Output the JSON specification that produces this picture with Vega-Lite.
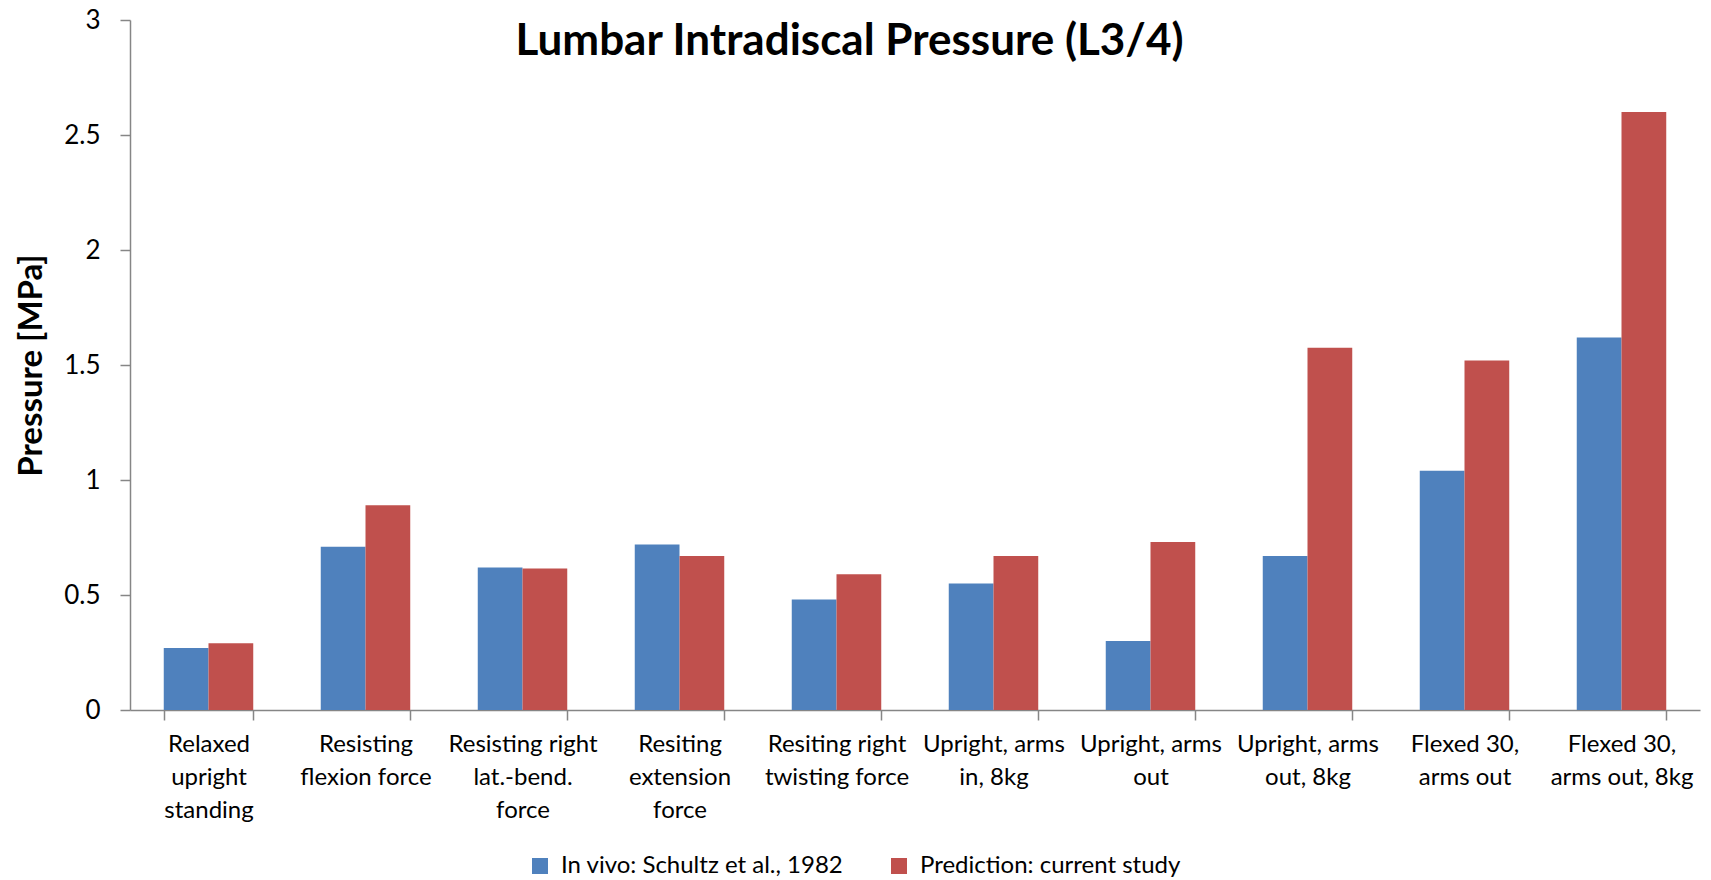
{
  "$schema": "https://vega.github.io/schema/vega-lite/v6.json",
  "width": 1570,
  "height": 690,
  "autosize": {"type": "none"},
  "padding": {"left": 130, "top": 20, "right": 11, "bottom": 170},
  "background": "white",
  "data": {
    "values": [
      {"condition": "Relaxed upright standing", "series": "In vivo: Schultz et al., 1982", "pressure": 0.27},
      {"condition": "Relaxed upright standing", "series": "Prediction: current study", "pressure": 0.29},
      {"condition": "Resisting flexion force", "series": "In vivo: Schultz et al., 1982", "pressure": 0.71},
      {"condition": "Resisting flexion force", "series": "Prediction: current study", "pressure": 0.89},
      {"condition": "Resisting right lat.-bend. force", "series": "In vivo: Schultz et al., 1982", "pressure": 0.62},
      {"condition": "Resisting right lat.-bend. force", "series": "Prediction: current study", "pressure": 0.615},
      {"condition": "Resiting extension force", "series": "In vivo: Schultz et al., 1982", "pressure": 0.72},
      {"condition": "Resiting extension force", "series": "Prediction: current study", "pressure": 0.67},
      {"condition": "Resiting right twisting force", "series": "In vivo: Schultz et al., 1982", "pressure": 0.48},
      {"condition": "Resiting right twisting force", "series": "Prediction: current study", "pressure": 0.59},
      {"condition": "Upright, arms in, 8kg", "series": "In vivo: Schultz et al., 1982", "pressure": 0.55},
      {"condition": "Upright, arms in, 8kg", "series": "Prediction: current study", "pressure": 0.67},
      {"condition": "Upright, arms out", "series": "In vivo: Schultz et al., 1982", "pressure": 0.30},
      {"condition": "Upright, arms out", "series": "Prediction: current study", "pressure": 0.73},
      {"condition": "Upright, arms out, 8kg", "series": "In vivo: Schultz et al., 1982", "pressure": 0.67},
      {"condition": "Upright, arms out, 8kg", "series": "Prediction: current study", "pressure": 1.575},
      {"condition": "Flexed 30, arms out", "series": "In vivo: Schultz et al., 1982", "pressure": 1.04},
      {"condition": "Flexed 30, arms out", "series": "Prediction: current study", "pressure": 1.52},
      {"condition": "Flexed 30, arms out, 8kg", "series": "In vivo: Schultz et al., 1982", "pressure": 1.62},
      {"condition": "Flexed 30, arms out, 8kg", "series": "Prediction: current study", "pressure": 2.60}
    ]
  },
  "encoding": {
    "x": {
      "field": "condition",
      "type": "nominal",
      "sort": null,
      "scale": {"paddingInner": 0.43, "paddingOuter": 0.215},
      "axis": {
        "title": null,
        "labelAngle": 0,
        "labelFont": "Lato",
        "labelFontSize": 24,
        "labelColor": "#000000",
        "labelLineHeight": 33,
        "labelPadding": 12,
        "labelLimit": 0,
        "labelBaseline": "top",
        "tickBand": "extent",
        "tickSize": 10,
        "tickColor": "#868686",
        "domainColor": "#868686",
        "domainWidth": 1.5,
        "tickWidth": 1.5,
        "labelExpr": "{'Relaxed upright standing': ['Relaxed','upright','standing'], 'Resisting flexion force': ['Resisting','flexion force'], 'Resisting right lat.-bend. force': ['Resisting right','lat.-bend.','force'], 'Resiting extension force': ['Resiting','extension','force'], 'Resiting right twisting force': ['Resiting right','twisting force'], 'Upright, arms in, 8kg': ['Upright, arms','in, 8kg'], 'Upright, arms out': ['Upright, arms','out'], 'Upright, arms out, 8kg': ['Upright, arms','out, 8kg'], 'Flexed 30, arms out': ['Flexed 30,','arms out'], 'Flexed 30, arms out, 8kg': ['Flexed 30,','arms out, 8kg']}[datum.label]"
      }
    }
  },
  "layer": [
    {
      "mark": {"type": "bar"},
      "encoding": {
        "y": {
          "field": "pressure",
          "type": "quantitative",
          "scale": {"domain": [0, 3], "nice": false},
          "axis": {
            "title": "Pressure [MPa]",
            "titleFont": "Lato",
            "titleFontSize": 33,
            "titleFontWeight": "bold",
            "titleColor": "#000000",
            "titlePadding": 15,
            "values": [0, 0.5, 1, 1.5, 2, 2.5, 3],
            "format": ".1~f",
            "grid": false,
            "labelFont": "Lato",
            "labelFontSize": 26,
            "labelColor": "#000000",
            "labelPadding": 20,
            "tickSize": 10,
            "tickColor": "#868686",
            "domainColor": "#868686",
            "domainWidth": 1.5,
            "tickWidth": 1.5
          }
        },
        "xOffset": {
          "field": "series",
          "type": "nominal",
          "scale": {"paddingInner": 0, "paddingOuter": 0}
        },
        "color": {
          "field": "series",
          "type": "nominal",
          "scale": {"domain": ["In vivo: Schultz et al., 1982", "Prediction: current study"], "range": ["#4F81BD", "#C0504D"]},
          "legend": {
            "title": null,
            "orient": "none",
            "direction": "horizontal",
            "legendX": 398,
            "legendY": 834,
            "padding": 0,
            "symbolType": "square",
            "symbolSize": 256,
            "symbolStrokeWidth": 0,
            "symbolOpacity": 1,
            "labelOffset": 9,
            "labelFont": "Lato",
            "labelFontSize": 24,
            "labelColor": "#000000",
            "labelLimit": 0,
            "columnPadding": 43
          }
        }
      }
    },
    {
      "transform": [
        {"filter": "datum.condition === 'Resiting right twisting force' && datum.series === 'In vivo: Schultz et al., 1982'"}
      ],
      "mark": {
        "type": "text",
        "text": "Lumbar Intradiscal Pressure (L3/4)",
        "font": "Lato",
        "fontSize": 44,
        "fontWeight": "bold",
        "fill": "#000000",
        "align": "center",
        "baseline": "alphabetic",
        "dx": 13
      },
      "encoding": {
        "y": {"datum": 2.849, "type": "quantitative"}
      }
    }
  ],
  "config": {
    "view": {"stroke": null}
  }
}
